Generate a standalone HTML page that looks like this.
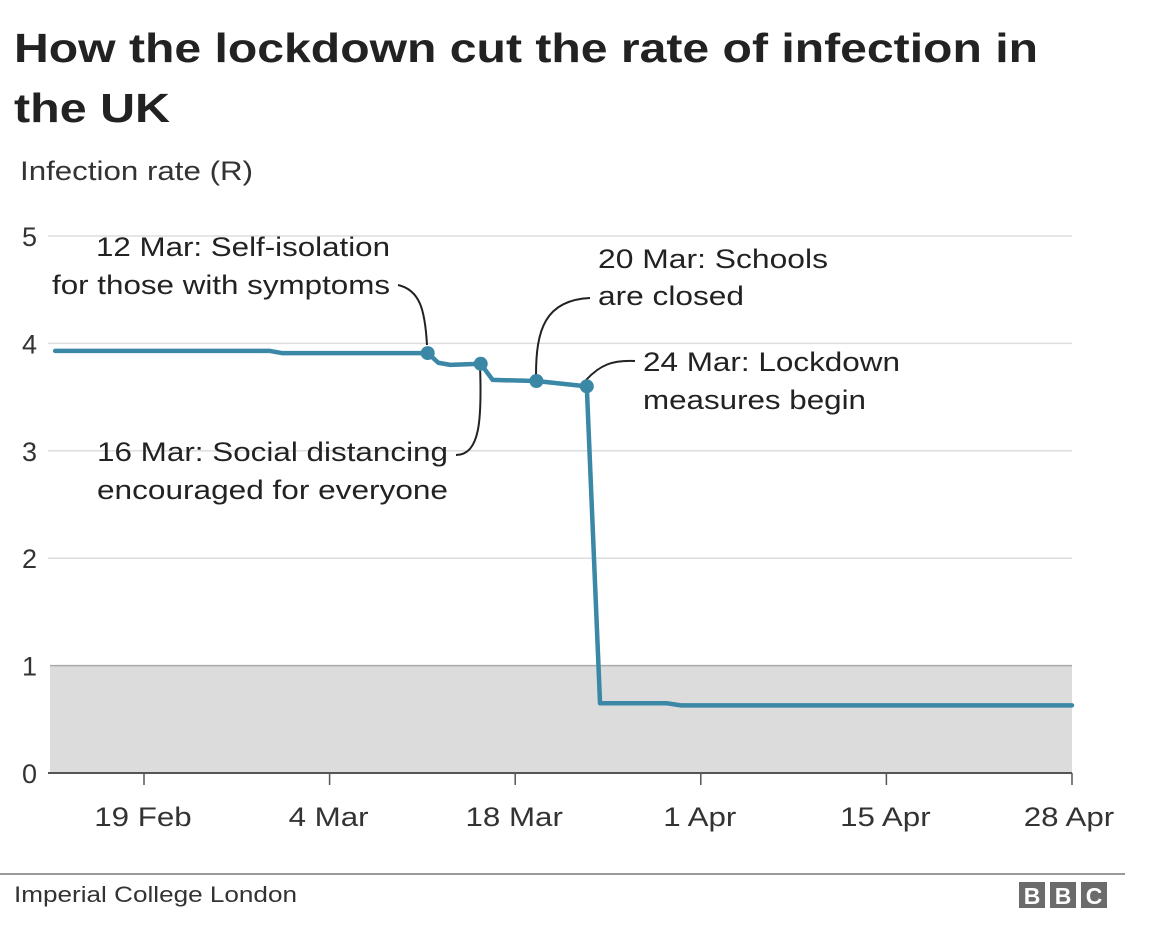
<!DOCTYPE html>
<html><head><meta charset="utf-8"><style>
body{margin:0;background:#fff;font-family:"Liberation Sans",Arial,sans-serif;}
svg text{font-family:"Liberation Sans",Arial,sans-serif;}
</style></head><body>
<svg width="1172" height="928" viewBox="0 0 1172 928">
<text x="14" y="62" font-size="41" font-weight="bold" fill="#222" textLength="1024" lengthAdjust="spacingAndGlyphs">How the lockdown cut the rate of infection in</text>
<text x="14" y="122" font-size="41" font-weight="bold" fill="#222" textLength="156" lengthAdjust="spacingAndGlyphs">the UK</text>
<text x="20" y="180" font-size="27" fill="#333" textLength="233" lengthAdjust="spacingAndGlyphs">Infection rate (R)</text>
<g id="plot"></g>
<line x1="0" y1="874" x2="1125" y2="874" stroke="#999" stroke-width="2"/>
<text x="14" y="902" font-size="22" fill="#333" textLength="283" lengthAdjust="spacingAndGlyphs">Imperial College London</text>
<g>
<rect x="1019" y="882" width="26" height="26" fill="#6b6b6b"/><rect x="1050" y="882" width="26" height="26" fill="#6b6b6b"/><rect x="1081" y="882" width="26" height="26" fill="#6b6b6b"/>
<text x="1032" y="904" font-size="23" font-weight="bold" fill="#fff" text-anchor="middle">B</text>
<text x="1063" y="904" font-size="23" font-weight="bold" fill="#fff" text-anchor="middle">B</text>
<text x="1094" y="904" font-size="23" font-weight="bold" fill="#fff" text-anchor="middle">C</text>
</g>
</svg>
<script>
const yTicks=[0,1,2,3,4,5];
const xTickDays=[0,14,28,42,56,70];
const xTickLabels=["19 Feb","4 Mar","18 Mar","1 Apr","15 Apr","28 Apr"];
const lineDays=[-6.7,9.5,10.4,21.4,22.2,23.1,25.4,26.3,29.6,33.4,34.4,39.4,40.5,70];
const lineValues=[3.93,3.93,3.91,3.91,3.82,3.80,3.81,3.66,3.65,3.60,0.65,0.65,0.63,0.63];
const markerDays=[21.4,25.4,29.6,33.4];
const markerValues=[3.91,3.81,3.65,3.60];
const NS="http://www.w3.org/2000/svg";
const X=d=>144+d*13.257, Y=v=>773-v*107.4;
const g=document.getElementById('plot');
function mk(t,a){const e=document.createElementNS(NS,t);for(const k in a)e.setAttribute(k,a[k]);g.appendChild(e);return e;}
let r=mk('rect',{x:50,y:Y(1),width:X(70)-50,height:Y(0)-Y(1),fill:'#dcdcdc'});


yTicks.forEach(v=>{
 let l=mk('line',{x1:v==1?50:48,x2:X(70),y1:Y(v),y2:Y(v),stroke:v==0?'#555':(v==1?'#aaa':'#ddd'),'stroke-width':v==0?2:1.5});
 
 
 let t=mk('text',{x:22,y:Y(v)+10,'font-size':27,fill:'#333'});t.textContent=v;
 
 
});
xTickDays.forEach((d,i)=>{
 let l=mk('line',{x1:X(d),x2:X(d),y1:Y(0),y2:Y(0)+12,stroke:'#555','stroke-width':1.5});
 
 
 let t=mk('text',{x:i==5?X(d)+-3:X(d)-1,y:826,'font-size':27,fill:'#333','text-anchor':'middle',transform:'',style:''});
 t.textContent=xTickLabels[i];
 t.setAttribute('transform','translate('+(i==5?X(d)-3:X(d)-1)+',0) scale(1.16,1) translate('+(-(i==5?X(d)-3:X(d)-1))+',0)');
 
 
});
let p=mk('path',{d:lineDays.map((d,i)=>(i?'L':'M')+X(d)+','+Y(lineValues[i])).join(''),fill:'none',stroke:'#3a87a6','stroke-width':4.5,'stroke-linejoin':'round','stroke-linecap':'round'});


const leaders=["M427,345 C425,310 420,290 398,285","M480,365 C482,420 480,455 456,455","M536,375 C536,330 545,300 590,298","M586,380 C600,365 612,360 635,361"];
leaders.forEach(dd=>{let l=mk('path',{d:dd,fill:'none',stroke:'#222','stroke-width':2});
 
 });
markerDays.forEach((d,i)=>{let c=mk('circle',{cx:X(d),cy:Y(markerValues[i]),r:7,fill:'#3a87a6'});
 
 });
const ann=[[96,256,"12 Mar: Self-isolation",294],[52,294,"for those with symptoms",338],[598,268,"20 Mar: Schools",230],[598,305,"are closed",146],[643,371,"24 Mar: Lockdown",257],[643,409,"measures begin",223],[97,461,"16 Mar: Social distancing",351],[97,499,"encouraged for everyone",351]];
ann.forEach(a=>{let t=mk('text',{x:a[0],y:a[1],'font-size':27,fill:'#222',textLength:a[3],lengthAdjust:'spacingAndGlyphs'});t.textContent=a[2];
 
 });
</script>
</body></html>
